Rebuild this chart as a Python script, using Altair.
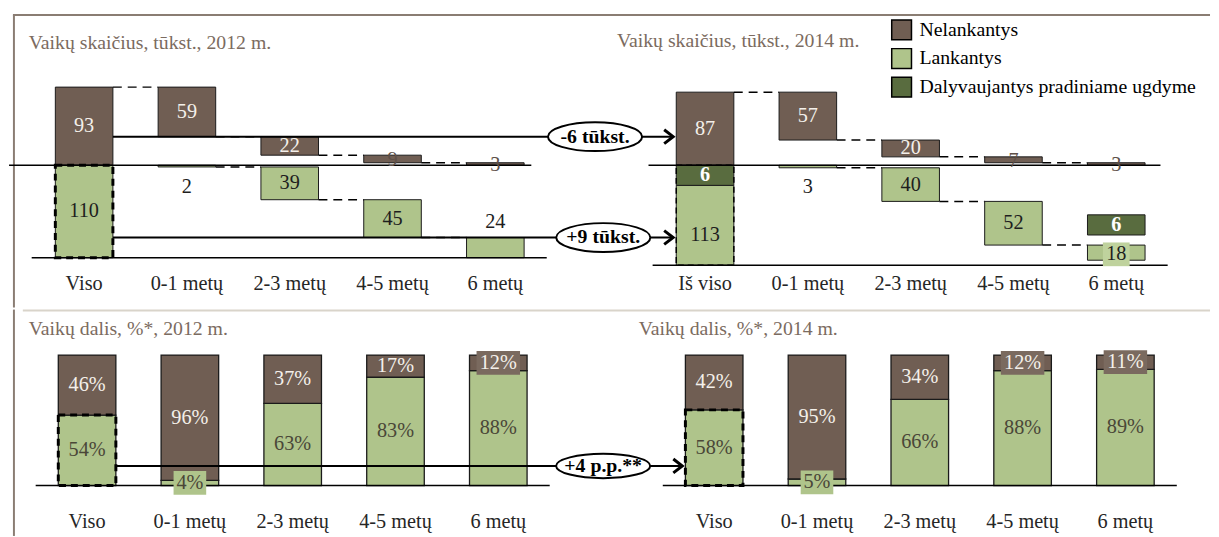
import altair as alt
import pandas as pd

# ---------------- data ----------------
cats_2012 = ["Viso", "0-1 metų", "2-3 metų", "4-5 metų", "6 metų"]
cats_2014 = ["Iš viso", "0-1 metų", "2-3 metų", "4-5 metų", "6 metų"]
cats_pct = ["Viso", "0-1 metų", "2-3 metų", "4-5 metų", "6 metų"]

# thousands of children
nel_2012 = [93, 59, 22, 9, 3]          # Nelankantys
lank_2012 = [110, 2, 39, 45, 24]       # Lankantys
nel_2014 = [87, 57, 20, 7, 3]
lank_2014 = [113, 3, 40, 52, 18]
prad_2014 = [6, 0, 0, 0, 6]            # Dalyvaujantys pradiniame ugdyme

# shares, %
nel_pct_2012 = [46, 96, 37, 17, 12]
lank_pct_2012 = [54, 4, 63, 83, 88]
nel_pct_2014 = [42, 95, 34, 12, 11]
lank_pct_2014 = [58, 5, 66, 88, 89]

change_labels = ["-6 tūkst.", "+9 tūkst.", "+4 p.p.**"]
groups = ["Nelankantys", "Lankantys", "Dalyvaujantys pradiniame ugdyme"]
titles = ["Vaikų skaičius, tūkst., 2012 m.", "Vaikų skaičius, tūkst., 2014 m.",
          "Vaikų dalis, %*, 2012 m.", "Vaikų dalis, %*, 2014 m."]

# ---------------- style / layout ----------------
FONT = "Liberation Serif"
BROWN = "#705e53"
GREEN = "#afc48b"
DGREEN = "#596c3f"
LBOX = "#bfd29d"
TITLE_C = "#7b6b60"
W = 1211
H_T, H_B = 300, 229
PX_SLOT = 104.0
K_T, K_B = 0.85, 1.32          # px per unit
OFF_T, OFF_B = 6.04, 6.10      # slot offset of the 2014 group
HW = 0.28                      # half bar width (slots)
DARK_VIS = 4                   # visual stretch of small dark blocks (as in original)

xs_top = alt.Scale(domain=[-72 / PX_SLOT, -72 / PX_SLOT + W / PX_SLOT], nice=False, zero=False)
xs_bot = alt.Scale(domain=[-75 / PX_SLOT, -75 / PX_SLOT + W / PX_SLOT], nice=False, zero=False)
Z_T = 156
ys_top = alt.Scale(domain=[-(H_T - Z_T) / K_T, Z_T / K_T], nice=False, zero=False)
Z_B = 178
ys_bot = alt.Scale(domain=[-(H_B - Z_B) / K_B, Z_B / K_B], nice=False, zero=False)

color_enc = alt.Color("grp:N", scale=alt.Scale(domain=groups, range=[BROWN, GREEN, DGREEN]),
                      legend=alt.Legend(title=None, orient="none", legendX=888, legendY=8,
                                        symbolType="square", symbolSize=400,
                                        symbolStrokeColor="black", symbolStrokeWidth=1.5,
                                        labelFont=FONT, labelFontSize=20, labelColor="black",
                                        labelOffset=7, rowPadding=3, padding=0,
                                        labelLimit=400))

ONE = pd.DataFrame({"v": [0]})

# ================= TOP PANEL (counts) =================
segs, conns, labs, boxes, outlines, hlines = [], [], [], [], [], []


def seg(xc, y1, y2, grp):
    segs.append(dict(x1=xc - HW, x2=xc + HW, y1=y1, y2=y2, grp=grp))


def lab(x, y, t, c, bold=False):
    labs.append(dict(x=x, y=y, t=str(t), c=c, b=bold))


for year, nel, lank, off in [(2012, nel_2012, lank_2012, 0.0), (2014, nel_2014, lank_2014, OFF_T)]:
    # total column
    seg(off, 0, nel[0], groups[0])
    lab(off, nel[0] / 2, nel[0], "#f4f0ea")
    if year == 2014:
        d = prad_2014[0]
        seg(off, 0, -d * DARK_VIS, groups[2])
        lab(off, -d * DARK_VIS / 2, d, "white", True)
        seg(off, -d * DARK_VIS, -(d + lank[0]), groups[1])
        lab(off, -(d * DARK_VIS + d + lank[0]) / 2 - 12, lank[0], "#1e1e1e")
        low = -(d + lank[0])
        outlines.append(dict(x1=off - HW, x2=off + HW, y1=0, y2=low, w=1.5))
    else:
        seg(off, 0, -lank[0], groups[1])
        lab(off, -lank[0] / 2, lank[0], "#1e1e1e")
        low = -lank[0]
        outlines.append(dict(x1=off - HW, x2=off + HW, y1=0, y2=low, w=3))
    hlines.append(dict(x1=off - (0.73 if year == 2012 else 0.55), x2=off + (4.35 if year == 2012 else 4.43), y=0))
    hlines.append(dict(x1=off - 0.51, x2=off + 4.5, y=low))
    # waterfall of non-attending
    lv = nel[0]
    for i in range(1, 5):
        xc = off + i
        conns.append(dict(x1=xc - 1 + HW, x2=xc - HW, y=lv))
        seg(xc, lv, lv - nel[i], groups[0])
        if nel[i] >= 15:
            lab(xc, lv - nel[i] / 2, nel[i], "#f4f0ea")
        else:
            lab(xc, lv - nel[i] / 2 - 1.5, nel[i], "#5e5048")
        lv -= nel[i]
    # waterfall of attending
    lv = 0
    for i in range(1, 5):
        xc = off + i
        if i > 1:
            conns.append(dict(x1=xc - 1 + HW, x2=xc - HW, y=lv))
        seg(xc, lv, lv - lank[i], groups[1])
        if lank[i] < 5:
            lab(xc, lv - lank[i] - 20 / K_T, lank[i], "#1e1e1e")
        elif year == 2012 and i == 4:
            lab(xc, lv + 16 / K_T, lank[i], "#1e1e1e")
        elif year == 2014 and i == 4:
            ym = lv - lank[i] / 2 - 2
            boxes.append(dict(x1=xc - 0.13, x2=xc + 0.13, y1=ym - 12 / K_T, y2=ym + 12 / K_T, f=LBOX))
            lab(xc, ym, lank[i], "#1e1e1e")
        else:
            lab(xc, lv - lank[i] / 2, lank[i], "#1e1e1e")
        if year == 2014 and i == 4 and prad_2014[4] > 0:
            d = prad_2014[4]
            b = lv + 12
            seg(xc, b, b + d * DARK_VIS, groups[2])
            lab(xc, b + d * DARK_VIS / 2, d, "white", True)
        lv -= lank[i]

# change arrows (top)
lvl_a = nel_2012[0] - nel_2012[1]
lvl_b = -(lank_2012[1] + lank_2012[2] + lank_2012[3])
arrows_t = pd.DataFrame([
    dict(x1=HW, x2=OFF_T - HW - 0.03, y=lvl_a, ex=4.97, t=change_labels[0]),
    dict(x1=HW, x2=OFF_T - HW - 0.03, y=lvl_b, ex=5.05, t=change_labels[1]),
])

ELL_T = "M-1.7,0A1.7,0.52 0 1,0 1.7,0A1.7,0.52 0 1,0 -1.7,0Z"
ELL_B = "M-1.7,0A1.7,0.44 0 1,0 1.7,0A1.7,0.44 0 1,0 -1.7,0Z"
CHEV = "M-1.3,-1L0,0L-1.3,1"


def arrow_layers(df, xs, ys, ell):
    line = alt.Chart(df).mark_rule(color="black", strokeWidth=2).encode(
        x=alt.X("x1:Q", scale=xs, axis=None), x2="x2:Q", y=alt.Y("y:Q", scale=ys, axis=None))
    head = alt.Chart(df).mark_point(shape=CHEV, size=196, filled=False, stroke="black",
                                    strokeWidth=3, opacity=1).encode(
        x=alt.X("x2:Q", scale=xs, axis=None), y=alt.Y("y:Q", scale=ys, axis=None))
    ellipse = alt.Chart(df).mark_point(shape=ell, size=3136, filled=True, fill="white",
                                       stroke="black", strokeWidth=2, opacity=1).encode(
        x=alt.X("ex:Q", scale=xs, axis=None), y=alt.Y("y:Q", scale=ys, axis=None))
    txt = alt.Chart(df).mark_text(font=FONT, fontSize=20, fontWeight="bold", color="black").encode(
        x=alt.X("ex:Q", scale=xs, axis=None), y=alt.Y("y:Q", scale=ys, axis=None), text="t:N")
    return [line, head, ellipse, txt]


def rects(df, xs, ys, **kw):
    return alt.Chart(df).mark_rect(**kw).encode(
        x=alt.X("x1:Q", scale=xs, axis=None), x2="x2:Q",
        y=alt.Y("y1:Q", scale=ys, axis=None), y2="y2:Q")


def hrules(df, xs, ys, **kw):
    return alt.Chart(df).mark_rule(**kw).encode(
        x=alt.X("x1:Q", scale=xs, axis=None), x2="x2:Q", y=alt.Y("y:Q", scale=ys, axis=None))


def texts(df, xs, ys, size=20.5):
    out = []
    for bold in (False, True):
        sub = df[df["b"] == bold]
        if len(sub) == 0:
            continue
        out.append(alt.Chart(sub).mark_text(font=FONT, fontSize=size,
                                            fontWeight="bold" if bold else "normal").encode(
            x=alt.X("x:Q", scale=xs, axis=None), y=alt.Y("y:Q", scale=ys, axis=None), text="t:N",
            color=alt.Color("c:N", scale=None)))
    return out


def cat_labels(cats, offs, ypx, xs):
    rows = []
    for cl, off in zip(cats, offs):
        for i, c in enumerate(cl):
            rows.append(dict(x=off + i, t=c))
    return alt.Chart(pd.DataFrame(rows)).mark_text(font=FONT, fontSize=20.5, color="#262626").encode(
        x=alt.X("x:Q", scale=xs, axis=None), y=alt.value(ypx), text="t:N")


def title_text(t, xpx, ypx):
    return alt.Chart(pd.DataFrame([dict(t=t)])).mark_text(
        font=FONT, fontSize=20, color=TITLE_C, align="left").encode(
        x=alt.value(xpx), y=alt.value(ypx), text="t:N")


bars_t = alt.Chart(pd.DataFrame(segs)).mark_rect(stroke="#1a1a1a", strokeWidth=1).encode(
    x=alt.X("x1:Q", scale=xs_top, axis=None), x2="x2:Q",
    y=alt.Y("y1:Q", scale=ys_top, axis=None), y2="y2:Q", color=color_enc)

outl_t = []
for o in outlines:
    outl_t.append(rects(pd.DataFrame([o]), xs_top, ys_top, fillOpacity=0, stroke="black",
                        strokeWidth=o["w"], strokeDash=[7, 5] if o["w"] > 2 else [6, 4]))

frame_t = [
    alt.Chart(ONE).mark_rule(color="#8a7d73", strokeWidth=2).encode(
        x=alt.value(0), x2=alt.value(W), y=alt.value(4)),
    alt.Chart(ONE).mark_rule(color="#8a7d73", strokeWidth=2).encode(
        x=alt.value(1), y=alt.value(4), y2=alt.value(H_T)),
]

top = alt.layer(
    *frame_t,
    bars_t,
    hrules(pd.DataFrame(hlines), xs_top, ys_top, color="black", strokeWidth=1.5),
    hrules(pd.DataFrame(conns), xs_top, ys_top, color="black", strokeWidth=1.5, strokeDash=[9, 6]),
    *outl_t,
    *arrow_layers(arrows_t, xs_top, ys_top, ELL_T),
    rects(pd.DataFrame(boxes), xs_top, ys_top, color=LBOX),
    *texts(pd.DataFrame(labs), xs_top, ys_top),
    cat_labels([cats_2012, cats_2014], [0.0, OFF_T], 276, xs_top),
    title_text(titles[0], 16, 32),
    title_text(titles[1], 611, 30),
).properties(width=W, height=H_T)

# ================= BOTTOM PANEL (shares) =================
bsegs, blabs, bboxes, boutl, bl = [], [], [], [], []
for nelp, lankp, off in [(nel_pct_2012, lank_pct_2012, 0.0), (nel_pct_2014, lank_pct_2014, OFF_B)]:
    bl.append(dict(x1=off - 0.5, x2=off + 4.5, y=0))
    for i in range(5):
        xc = off + i
        bsegs.append(dict(x1=xc - HW, x2=xc + HW, y1=0, y2=lankp[i], grp=groups[1]))
        bsegs.append(dict(x1=xc - HW, x2=xc + HW, y1=lankp[i], y2=100, grp=groups[0]))
        tn, tl = f"{nelp[i]}%", f"{lankp[i]}%"
        ym_n = lankp[i] + nelp[i] / 2
        ym_l = lankp[i] / 2
        if nelp[i] < 15:
            hw = (11 * len(tn) + 11) / 2 / PX_SLOT
            bboxes.append(dict(x1=xc - hw, x2=xc + hw, y1=ym_n - 12 / K_B, y2=ym_n + 12 / K_B, f="#7a6a5f"))
        blabs.append(dict(x=xc, y=ym_n, t=tn, c="#f4f0ea", b=False))
        if lankp[i] < 15:
            hw = (11 * len(tl) + 11) / 2 / PX_SLOT
            bboxes.append(dict(x1=xc - hw, x2=xc + hw, y1=ym_l - 12 / K_B, y2=ym_l + 12 / K_B, f=GREEN))
        blabs.append(dict(x=xc, y=ym_l, t=tl, c="#4a4738", b=False))
        if i == 0:
            boutl.append(dict(x1=xc - HW, x2=xc + HW, y1=0, y2=lankp[0]))

bars_b = alt.Chart(pd.DataFrame(bsegs)).mark_rect(stroke="#1a1a1a", strokeWidth=1.3).encode(
    x=alt.X("x1:Q", scale=xs_bot, axis=None), x2="x2:Q",
    y=alt.Y("y1:Q", scale=ys_bot, axis=None), y2="y2:Q", color=color_enc)

boxes_b = alt.Chart(pd.DataFrame(bboxes)).mark_rect().encode(
    x=alt.X("x1:Q", scale=xs_bot, axis=None), x2="x2:Q",
    y=alt.Y("y1:Q", scale=ys_bot, axis=None), y2="y2:Q", color=alt.Color("f:N", scale=None))

arrows_b = pd.DataFrame([dict(x1=HW, x2=OFF_B - HW - 0.03, y=15, ex=5.02, t=change_labels[2])])

frame_b = [
    alt.Chart(ONE).mark_rule(color="#8a7d73", strokeWidth=2).encode(
        x=alt.value(1), y=alt.value(0), y2=alt.value(H_B)),
    alt.Chart(ONE).mark_rule(color="#d9d4ca", strokeWidth=2).encode(
        x=alt.value(10), x2=alt.value(W), y=alt.value(1)),
]

bottom = alt.layer(
    *frame_b,
    bars_b,
    hrules(pd.DataFrame(bl), xs_bot, ys_bot, color="black", strokeWidth=1.5),
    rects(pd.DataFrame(boutl), xs_bot, ys_bot, fillOpacity=0, stroke="black", strokeWidth=3,
          strokeDash=[7, 5]),
    *arrow_layers(arrows_b, xs_bot, ys_bot, ELL_B),
    boxes_b,
    *texts(pd.DataFrame(blabs), xs_bot, ys_bot),
    cat_labels([cats_pct, cats_pct], [0.0, OFF_B], 215, xs_bot),
    title_text(titles[2], 16, 20),
    title_text(titles[3], 633, 20),
).properties(width=W, height=H_B)

chart = alt.vconcat(top, bottom, spacing=0).properties(padding=0).configure_view(stroke=None)
chart.save("out.html", embed_options={"renderer": "svg", "actions": False})
